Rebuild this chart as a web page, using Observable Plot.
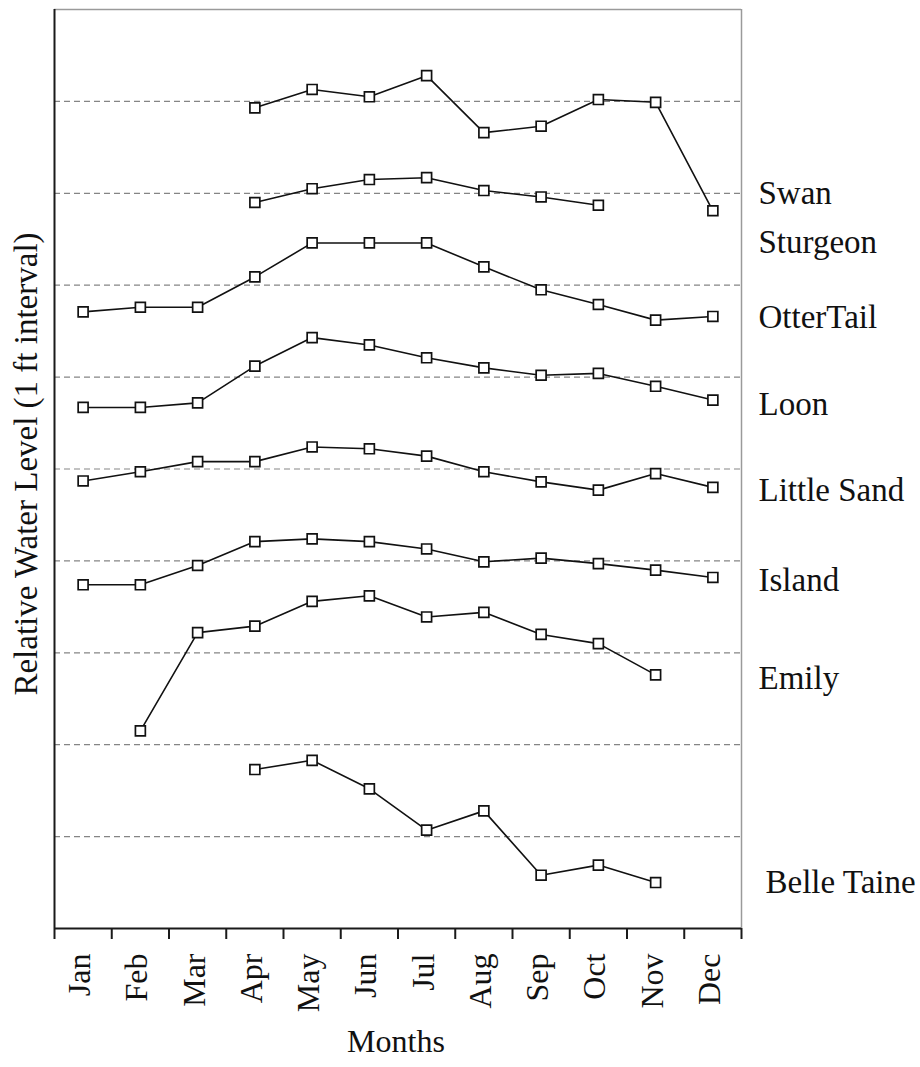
<!DOCTYPE html>
<html>
<head>
<meta charset="utf-8">
<script src="https://cdn.jsdelivr.net/npm/d3@7"></script>
<script src="https://cdn.jsdelivr.net/npm/@observablehq/plot@0.6"></script>
<style>
  html, body { margin: 0; padding: 0; background: #fff; }
  #chart svg { display: block; }
</style>
</head>
<body>
<div id="chart"></div>
<script>
// Month categories along the x axis
const months = ["Jan", "Feb", "Mar", "Apr", "May", "Jun", "Jul", "Aug", "Sep", "Oct", "Nov", "Dec"];

// Lakes, top to bottom
const lakes = ["Swan", "Sturgeon", "OtterTail", "Loon", "Little Sand", "Island", "Emily", "Belle Taine"];

// Relative water level (ft) per month; null = no reading
const swan       = [null, null, null, 8.93, 9.13, 9.05, 9.28, 8.66, 8.73, 9.02, 8.99, 7.81];
const sturgeon   = [null, null, null, 7.90, 8.05, 8.15, 8.17, 8.03, 7.96, 7.87, null, null];
const otterTail  = [6.71, 6.76, 6.76, 7.09, 7.46, 7.46, 7.46, 7.20, 6.95, 6.79, 6.62, 6.66];
const loon       = [5.67, 5.67, 5.72, 6.12, 6.43, 6.35, 6.21, 6.10, 6.02, 6.04, 5.90, 5.75];
const littleSand = [4.87, 4.97, 5.08, 5.08, 5.24, 5.22, 5.14, 4.97, 4.86, 4.77, 4.95, 4.80];
const island     = [3.74, 3.74, 3.95, 4.21, 4.24, 4.21, 4.13, 3.99, 4.03, 3.97, 3.90, 3.82];
const emily      = [null, 2.15, 3.22, 3.29, 3.56, 3.62, 3.39, 3.44, 3.20, 3.10, 2.76, null];
const belleTaine = [null, null, null, 1.73, 1.83, 1.52, 1.07, 1.28, 0.58, 0.69, 0.50, null];

const series = [swan, sturgeon, otterTail, loon, littleSand, island, emily, belleTaine];

// Level at which each lake's name is written beside the plot
const labelLevels = [8.00, 7.46, 6.65, 5.70, 4.77, 3.79, 2.72, 0.50];

// Reference lines, one per foot
const gridLevels = [1, 2, 3, 4, 5, 6, 7, 8, 9];

// Long-form table for the marks
const table = [];
lakes.forEach((lake, k) => {
  series[k].forEach((v, i) => {
    if (v != null) table.push({lake, month: months[i], m: i + 0.5, level: v});
  });
});

const serif = "'Liberation Serif', 'Times New Roman', serif";
const monthCenters = months.map((_, i) => i + 0.5);
const boundaries = d3.range(0, months.length + 1);
const lastLake = lakes.length - 1;

const chart = Plot.plot({
  width: 920,
  height: 1067,
  marginLeft: 54,
  marginRight: 179,
  marginTop: 9,
  marginBottom: 139,
  style: {background: "#fff", fontFamily: serif},
  x: {type: "linear", domain: [0, 12], axis: null},
  y: {type: "linear", domain: [0, 10], axis: null},
  marks: [
    // dashed one-foot reference lines
    Plot.ruleY(gridLevels, {stroke: "#858585", strokeWidth: 1.2, strokeDasharray: "6,4"}),
    // plot frame: light top/right, dark left/bottom
    Plot.ruleY([10], {stroke: "#9a9a9a", strokeWidth: 1.5}),
    Plot.ruleX([12], {stroke: "#9a9a9a", strokeWidth: 1.5}),
    Plot.ruleX([0], {stroke: "#1a1a1a", strokeWidth: 2}),
    Plot.ruleY([0], {stroke: "#1a1a1a", strokeWidth: 2}),
    // tick marks between months
    Plot.axisX(boundaries, {tickSize: 11, tickFormat: () => "", label: null, stroke: "#1a1a1a", strokeWidth: 2}),
    // month names, rotated
    Plot.text(months, {
      x: monthCenters,
      frameAnchor: "bottom",
      rotate: -90,
      textAnchor: "end",
      dx: 7,
      dy: 25,
      fontSize: 32,
      fontFamily: serif,
      fill: "#111"
    }),
    // lake lines and open square markers
    Plot.line(table, {x: "m", y: "level", z: "lake", stroke: "#111", strokeWidth: 1.6}),
    Plot.dot(table, {x: "m", y: "level", symbol: "square", r: 5.6, fill: "#fff", stroke: "#111", strokeWidth: 1.7}),
    // lake names to the right of the frame
    Plot.text(lakes, {
      filter: (d, i) => i < lastLake,
      x: () => 12,
      y: (d, i) => labelLevels[i],
      dx: 17,
      textAnchor: "start",
      fontSize: 33,
      fontFamily: serif,
      fill: "#111"
    }),
    Plot.text(lakes, {
      filter: (d, i) => i === lastLake,
      x: () => 12,
      y: (d, i) => labelLevels[i],
      dx: 24,
      textAnchor: "start",
      fontSize: 33,
      fontFamily: serif,
      fill: "#111"
    }),
    // axis titles
    Plot.text(["Months"], {frameAnchor: "bottom", dx: -2, dy: 123, fontSize: 32, fontFamily: serif, fill: "#111"}),
    Plot.text(["Relative Water Level (1 ft interval)"], {
      frameAnchor: "left", textAnchor: "middle", dx: -28, dy: -5, rotate: -90, fontSize: 33, fontFamily: serif, fill: "#111"
    })
  ]
});

document.getElementById("chart").appendChild(chart);
</script>
</body>
</html>
